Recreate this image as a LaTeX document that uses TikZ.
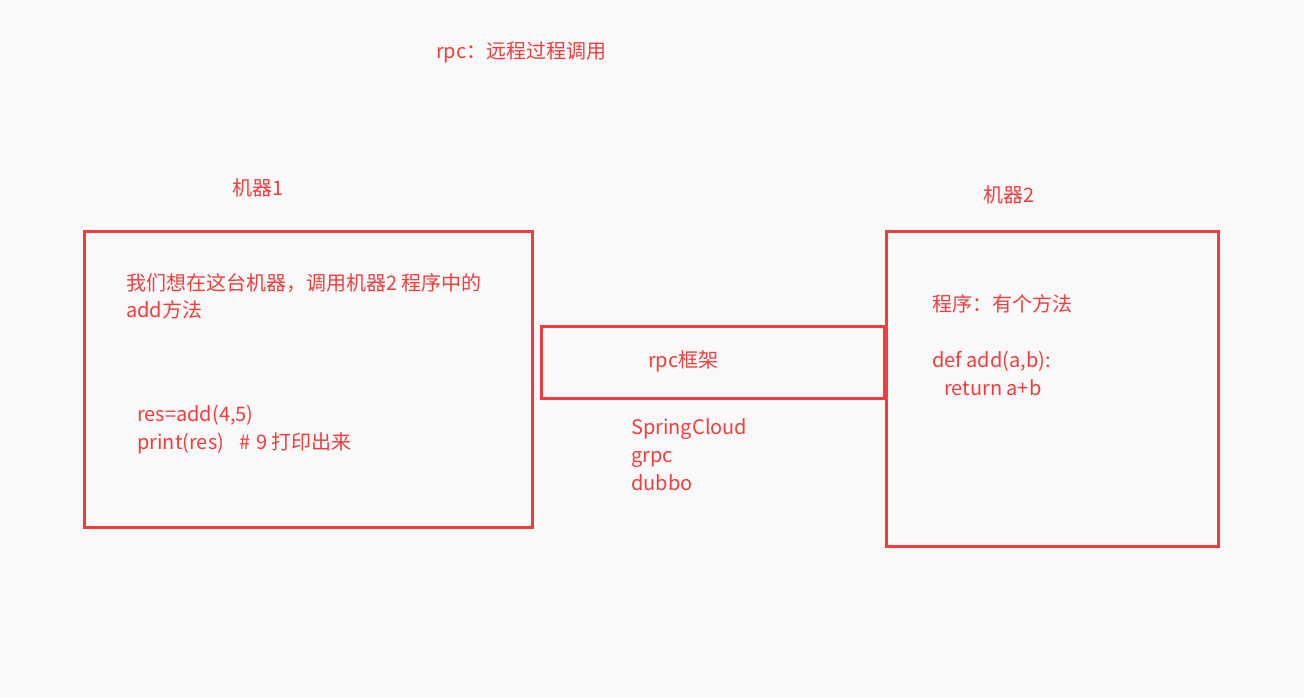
\documentclass[tikz,border=0pt]{standalone}
\usepackage{fontspec}
\setmainfont{Noto Sans CJK SC}
\definecolor{rpcred}{RGB}{242,61,61}
\definecolor{paper}{RGB}{249,249,249}
\tikzset{
  box/.style={draw=rpcred,line width=3pt,inner sep=0pt},
  txt/.style={text=rpcred,anchor=base west,inner sep=0pt,font=\fontsize{20}{24}\selectfont}
}
\begin{document}
\begin{tikzpicture}[x=1pt,y=-1pt]
\fill[paper] (0,0) rectangle (1304,698);
\useasboundingbox (0,0) rectangle (1304,698);
\node[txt] (title) at (436,59) {rpc：远程过程调用};
\node[txt] (m1label) at (232,195) {机器1};
\node[txt] (m2label) at (983,202) {机器2};
\node[box,minimum width=448,minimum height=296] (m1) at (308,379) {};
\node[box,minimum width=332,minimum height=315] (m2) at (1052,388.5) {};
\node[box,minimum width=343,minimum height=72] (rpc) at (712.5,362) {};
\node[txt] (want) at (126,290) {我们想在这台机器，调用机器2 程序中的};
\node[txt] (wantb) at (126,317) {add方法};
\node[txt] (call) at (137,421) {res=add(4,5)};
\node[txt] (show) at (137,449) {print(res)\hspace{15pt}\#\hspace{6pt}9 打印出来};
\node[txt] (rpctxt) at (648,367) {rpc框架};
\node[txt] (fw1) at (631,434) {SpringCloud};
\node[txt] (fw2) at (631,462) {grpc};
\node[txt] (fw3) at (631,490) {dubbo};
\node[txt] (prog) at (932,311) {程序：有个方法};
\node[txt] (def) at (932,367) {def add(a,b):};
\node[txt] (ret) at (944,395) {return a+b};
\end{tikzpicture}
\end{document}
